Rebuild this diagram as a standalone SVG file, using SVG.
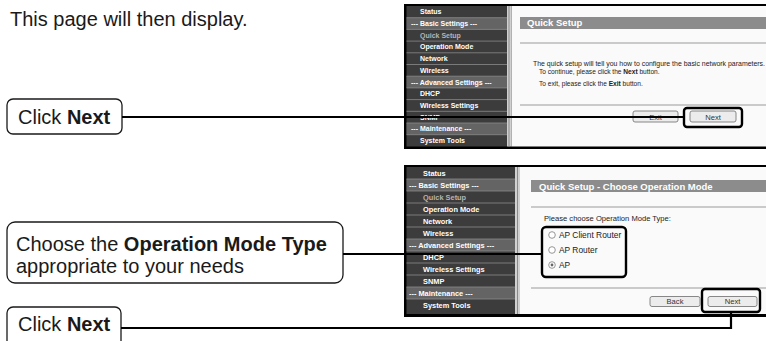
<svg xmlns="http://www.w3.org/2000/svg" width="766" height="341" viewBox="0 0 766 341">
<style>
  .big { font-family: "Liberation Sans", Arial, sans-serif; font-size: 20px; fill: #1a1a1a; }
  .b { font-weight: bold; }
  .node { fill: #ffffff; stroke: #1a1a1a; stroke-width: 1.3; }
  .frame { fill: #000000; }
  .menu { fill: #3c3c3c; }
  .hdr { fill: #646464; }
  .rowsep { stroke: #8a8a8a; stroke-width: 0.8; }
  .ml { font-family: "Liberation Sans", Arial, sans-serif; font-weight: bold; font-size: 7px; fill: #ffffff; }
  .ml2 { font-family: "Liberation Sans", Arial, sans-serif; font-weight: bold; font-size: 7.4px; fill: #ffffff; }
  .sel { fill: #b4b4b4; }
  .content { fill: #fafafa; }
  .vsep { fill: #d0d0d0; }
  .vline { stroke: #8a8a8a; stroke-width: 1; }
  .title { fill: #8c8c8c; }
  .tt { font-family: "Liberation Sans", Arial, sans-serif; font-weight: bold; font-size: 9.5px; fill: #ffffff; }
  .hr { stroke: #9a9a9a; stroke-width: 1; }
  .st { font-family: "Liberation Sans", Arial, sans-serif; font-size: 6.6px; fill: #222222; }
  .st2 { font-family: "Liberation Sans", Arial, sans-serif; font-size: 7.6px; fill: #222222; }
  .rt { font-family: "Liberation Sans", Arial, sans-serif; font-size: 8.4px; fill: #222222; }
  .btn { fill: #ececec; stroke: #7a7a7a; stroke-width: 0.9; }
  .bt { font-family: "Liberation Sans", Arial, sans-serif; font-size: 7.6px; fill: #333333; text-anchor: middle; }
  .radio { fill: #ffffff; stroke: #8a8a8a; stroke-width: 0.9; }
  .conn { fill: none; stroke: #000000; stroke-width: 2.2; }
  .hl { fill: none; stroke: #000000; stroke-width: 2.4; }
</style>

<g id="intro">
  <text class="big" x="10" y="26">This page will then display.</text>
</g>

<!-- Screenshot 1: Quick Setup -->
<g id="screenshot-1">
  <rect class="frame" x="404" y="4" width="370" height="145"/>
  <rect class="menu" x="406.5" y="6" width="100.5" height="140.5"/>
  <rect class="hdr" x="406.5" y="17.7" width="100.5" height="11.7"/>
  <rect class="hdr" x="406.5" y="76.2" width="100.5" height="11.7"/>
  <rect class="hdr" x="406.5" y="123" width="100.5" height="11.7"/>
  <g class="rowsep">
    <line x1="406.5" y1="17.7" x2="507" y2="17.7"/>
    <line x1="406.5" y1="29.4" x2="507" y2="29.4"/>
    <line x1="406.5" y1="41.1" x2="507" y2="41.1"/>
    <line x1="406.5" y1="52.8" x2="507" y2="52.8"/>
    <line x1="406.5" y1="64.5" x2="507" y2="64.5"/>
    <line x1="406.5" y1="76.2" x2="507" y2="76.2"/>
    <line x1="406.5" y1="87.9" x2="507" y2="87.9"/>
    <line x1="406.5" y1="99.6" x2="507" y2="99.6"/>
    <line x1="406.5" y1="111.3" x2="507" y2="111.3"/>
    <line x1="406.5" y1="123" x2="507" y2="123"/>
    <line x1="406.5" y1="134.7" x2="507" y2="134.7"/>
  </g>
  <text class="ml" x="420" y="14.3">Status</text>
  <text class="ml" x="411" y="26">--- Basic Settings ---</text>
  <text class="ml sel" x="420" y="37.7">Quick Setup</text>
  <text class="ml" x="420" y="49.4">Operation Mode</text>
  <text class="ml" x="420" y="61.1">Network</text>
  <text class="ml" x="420" y="72.8">Wireless</text>
  <text class="ml" x="411" y="84.5">--- Advanced Settings ---</text>
  <text class="ml" x="420" y="96.2">DHCP</text>
  <text class="ml" x="420" y="107.9">Wireless Settings</text>
  <text class="ml" x="420" y="119.6">SNMP</text>
  <text class="ml" x="411" y="131.3">--- Maintenance ---</text>
  <text class="ml" x="420" y="143">System Tools</text>

  <rect class="vsep" x="507" y="6" width="4.5" height="140.5"/>
  <line class="vline" x1="509" y1="6" x2="509" y2="146.5"/>
  <rect class="content" x="511.5" y="6" width="260" height="140.5"/>
  <rect class="title" x="520" y="17" width="250" height="12"/>
  <text class="tt" x="527" y="26.3">Quick Setup</text>
  <line class="hr" x1="520" y1="43" x2="766" y2="43"/>
  <text class="st" x="533" y="65.5" textLength="232" lengthAdjust="spacingAndGlyphs">The quick setup will tell you how to configure the basic network parameters.</text>
  <text class="st" x="539" y="73.5">To continue, please click the <tspan font-weight="bold">Next</tspan> button.</text>
  <text class="st" x="539" y="85.5">To exit, please click the <tspan font-weight="bold">Exit</tspan>  button.</text>
  <line class="hr" x1="520" y1="105" x2="766" y2="105"/>
  <rect class="btn" x="633" y="111" width="45" height="11" rx="2"/>
  <text class="bt" x="655.5" y="119.6">Exit</text>
  <rect class="btn" x="690" y="111" width="46" height="11" rx="2"/>
  <text class="bt" x="713" y="119.6">Next</text>
</g>

<!-- Screenshot 2: Choose Operation Mode -->
<g id="screenshot-2">
  <rect class="frame" x="404" y="165" width="370" height="152"/>
  <rect class="menu" x="406.5" y="167" width="108.5" height="147"/>
  <rect class="hdr" x="406.5" y="179" width="108.5" height="12"/>
  <rect class="hdr" x="406.5" y="239" width="108.5" height="12"/>
  <rect class="hdr" x="406.5" y="287" width="108.5" height="12"/>
  <g class="rowsep">
    <line x1="406.5" y1="179" x2="515" y2="179"/>
    <line x1="406.5" y1="191" x2="515" y2="191"/>
    <line x1="406.5" y1="203" x2="515" y2="203"/>
    <line x1="406.5" y1="215" x2="515" y2="215"/>
    <line x1="406.5" y1="227" x2="515" y2="227"/>
    <line x1="406.5" y1="239" x2="515" y2="239"/>
    <line x1="406.5" y1="251" x2="515" y2="251"/>
    <line x1="406.5" y1="263" x2="515" y2="263"/>
    <line x1="406.5" y1="275" x2="515" y2="275"/>
    <line x1="406.5" y1="287" x2="515" y2="287"/>
    <line x1="406.5" y1="299" x2="515" y2="299"/>
  </g>
  <text class="ml2" x="423" y="175.6">Status</text>
  <text class="ml2" x="409" y="187.6">--- Basic Settings ---</text>
  <text class="ml2 sel" x="423" y="199.6">Quick Setup</text>
  <text class="ml2" x="423" y="211.6">Operation Mode</text>
  <text class="ml2" x="423" y="223.6">Network</text>
  <text class="ml2" x="423" y="235.6">Wireless</text>
  <text class="ml2" x="409" y="247.6">--- Advanced Settings ---</text>
  <text class="ml2" x="423" y="259.6">DHCP</text>
  <text class="ml2" x="423" y="271.6">Wireless Settings</text>
  <text class="ml2" x="423" y="283.6">SNMP</text>
  <text class="ml2" x="409" y="295.6">--- Maintenance ---</text>
  <text class="ml2" x="423" y="307.6">System Tools</text>

  <rect class="vsep" x="515" y="167" width="5" height="147"/>
  <line class="vline" x1="517.5" y1="167" x2="517.5" y2="314"/>
  <rect class="content" x="520" y="167" width="252" height="147"/>
  <rect class="title" x="531" y="180" width="240" height="12"/>
  <text class="tt" x="539" y="189.5">Quick Setup - Choose Operation Mode</text>
  <line class="hr" x1="531" y1="207" x2="766" y2="207"/>
  <text class="st2" x="544" y="220.5">Please choose Operation Mode Type:</text>
  <circle class="radio" cx="552" cy="235" r="3.3"/>
  <text class="rt" x="559" y="238">AP Client Router</text>
  <circle class="radio" cx="552" cy="250" r="3.3"/>
  <text class="rt" x="559" y="253">AP Router</text>
  <circle class="radio" cx="552" cy="265" r="3.3"/>
  <circle cx="552" cy="265" r="1.4" fill="#666666"/>
  <text class="rt" x="559" y="268">AP</text>
  <line class="hr" x1="531" y1="288" x2="766" y2="288"/>
  <rect class="btn" x="650" y="296.5" width="50" height="10" rx="2"/>
  <text class="bt" x="675" y="304.3">Back</text>
  <rect class="btn" x="708" y="296.5" width="49" height="10" rx="2"/>
  <text class="bt" x="732.5" y="304.3">Next</text>
</g>

<!-- Callout nodes -->
<g id="click-next-1">
  <rect class="node" x="7" y="99" width="115" height="35" rx="6"/>
  <text class="big" x="18" y="123.5">Click <tspan class="b">Next</tspan></text>
</g>

<g id="choose-mode">
  <rect class="node" x="7" y="222" width="336" height="61" rx="8"/>
  <text class="big" x="16" y="250.5">Choose the <tspan class="b">Operation Mode Type</tspan></text>
  <text class="big" x="16" y="272.5">appropriate to your needs</text>
</g>

<g id="click-next-2">
  <rect class="node" x="7" y="307" width="114" height="42" rx="6"/>
  <text class="big" x="18" y="331">Click <tspan class="b">Next</tspan></text>
</g>

<!-- Connectors and highlights -->
<g id="connectors">
  <line class="conn" x1="122" y1="117" x2="684" y2="117"/>
  <rect class="hl" x="684" y="108" width="58" height="19" rx="3"/>
  <line class="conn" x1="343" y1="254" x2="542" y2="254"/>
  <rect class="hl" x="542" y="227" width="84" height="50" rx="4"/>
  <polyline class="conn" points="121,328 731,328 731,312"/>
  <rect class="hl" x="702" y="289" width="58" height="23" rx="3"/>
</g>
</svg>
